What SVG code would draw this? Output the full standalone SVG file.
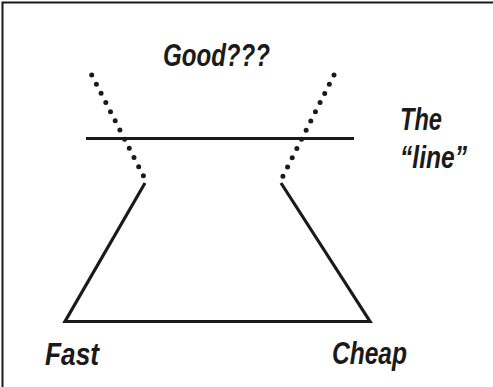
<svg xmlns="http://www.w3.org/2000/svg" width="493" height="387" viewBox="0 0 493 387">
<style>
.lbl{font-family:"Liberation Sans",Arial,sans-serif;font-weight:bold;font-style:italic;font-size:31px;fill:#1a1a1a}
.solid{fill:none;stroke:#1a1a1a;stroke-width:3.2}
.dot{fill:none;stroke:#1a1a1a;stroke-width:5;stroke-linecap:round;stroke-dasharray:0 10.3}
</style>
<rect width="493" height="387" fill="#fff"/>
<path d="M2.5 387 V2.5 H493" fill="none" stroke="#1a1a1a" stroke-width="2"/>
<g id="connectors">
<polyline class="solid" points="145,183 65,321.5 370,321.5 281,183"/>
<line class="solid" x1="86" y1="138.5" x2="354" y2="138.5"/>
<line class="dot" x1="91.7" y1="75" x2="144" y2="177"/>
<line class="dot" x1="334" y1="75" x2="282.5" y2="177"/>
</g>
<g id="good"><text class="lbl" x="163" y="66" textLength="107" lengthAdjust="spacingAndGlyphs">Good???</text></g>
<g id="theline"><text class="lbl" x="400" y="130" textLength="42" lengthAdjust="spacingAndGlyphs">The</text>
<text class="lbl" x="400" y="168" textLength="67" lengthAdjust="spacingAndGlyphs">“line”</text></g>
<g id="fast"><text class="lbl" x="45" y="365" textLength="54" lengthAdjust="spacingAndGlyphs">Fast</text></g>
<g id="cheap"><text class="lbl" x="332" y="364" textLength="75" lengthAdjust="spacingAndGlyphs">Cheap</text></g>
</svg>
